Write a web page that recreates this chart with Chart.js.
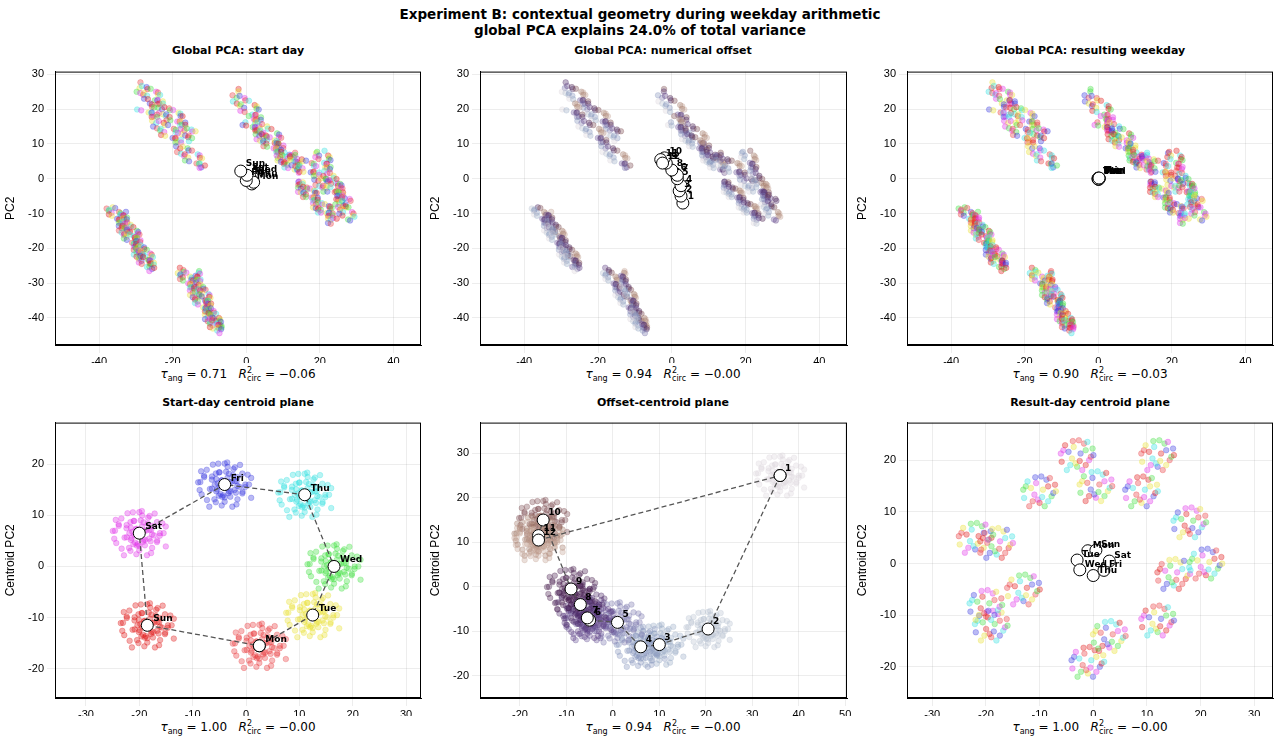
<!DOCTYPE html><html><head><meta charset="utf-8">
<script src="https://cdn.jsdelivr.net/npm/chart.js@4"></script>
<style>
body{margin:0;background:#fff;font-family:"DejaVu Sans",sans-serif;width:1280px;height:746px;position:relative;overflow:hidden}
.c{position:absolute}.t{position:absolute;font-weight:bold;font-size:11px;text-align:center;color:#000}
.m{position:absolute;font-size:12px;text-align:center;color:#000}
#main{position:absolute;left:0;width:1280px;top:6px;text-align:center;font-weight:bold;font-size:13.5px;line-height:16px}
</style></head><body>
<div id="main">Experiment B: contextual geometry during weekday arithmetic<br>global PCA explains 24.0% of total variance</div>
<script>
// ---- data ----
const DAYS=['Mon','Tue','Wed','Thu','Fri','Sat','Sun'];
const DAY_COLORS=['#e8383d','#e8e030','#40e040','#30e0e0','#3838e0','#e030e8','#e01818'];
const OFFSETS=['1','2','3','4','5','6','7','8','9','10','11','12'];
const OFF_COLORS=['#dcd6dc','#b9c4d2','#9aadc6','#8796bd','#7a77ae','#6d5a9a','#5e3f84','#4c2a66','#4a2050','#7a4a50','#a07868','#c2a294'];
const JIT=[[-0.8,0.3],[0.5,-0.6],[0.1,0.9],[-0.3,-0.2],[0.9,0.4],[-0.6,-0.9],[0.2,0.1],[0.7,-0.3],[-0.9,-0.4],[0.4,0.7],[-0.2,0.5],[0.0,-0.7],[0.6,0.8],[-0.5,0.2],[0.3,-0.9],[-0.7,0.6],[0.8,-0.1],[-0.1,-0.5],[0.5,0.3],[-0.4,-0.6],[0.95,0.0],[-0.95,0.1],[0.15,-0.35],[-0.25,0.85]];
// top-panel streaks [x0,y0,x1,y1,halfWidth]
const STREAKS=[[-29,27,-14,12,2.2],[-28,21,-12,3,2.2],[-3,25,12,5,2.4],[0,17,14,2,2],[12,7,28,-7,2.4],[20,8,28,-12,2],[14,-1,24,-12,2],[-37,-8,-27,-25,1.6],[-34,-10,-25,-26,1.6],[-18,-26,-8,-43,1.6],[-14,-27,-7,-44,1.4]];
const TOP_DAY_CENT=[[1.5,-1.5],[0.5,0],[1,0.5],[2,-1],[0,-0.5],[0.2,1],[-1.5,2.2]];
const TOP_OFF_CENT=[[3,-7],[2.5,-5],[2,-3.5],[2.5,-2],[1.5,0],[1,1.5],[1.5,1],[0,2.5],[-1.5,4.5],[-2,6],[-3,5.5],[-2.5,4.5]];
const TOP_RES_CENT=[[0,0.2],[0.2,0],[0.1,-0.2],[-0.1,0],[0.3,0.1],[0,-0.1],[0.2,0.2]];
const BL_CENT=[[2.5,-15.5],[12.5,-9.5],[16.5,0],[11,14],[-4,16],[-20,6.5],[-18.5,-11.5]];
const BM_CENT=[[36,25],[20.5,-9.5],[10,-13],[6,-13.5],[1,-8],[-5,-7.5],[-5.5,-7],[-7,-4],[-9,-0.5],[-15,15],[-16,11.5],[-16,10.5]];
const BM_SPREAD=[5,4.5,5,5,5,5,5,5,5,5,5,5];
const BR_CENT=[[-1,2.5],[-3,0.7],[-2.5,-1.2],[0,-2.3],[2,-1.3],[3,0.5],[0.5,2.6]];
const BR_CLUSTERS=[[-22,5],[-19,-12],[-18,4],[-10,14],[-3,21],[0.5,15],[9,14],[12,21],[18,8],[15,-2],[21,0],[12,-11],[3,-14],[-1,-19],[-13,-5],[-20,-8]];
// ---- build ----
function rgba(h,a){const n=parseInt(h.slice(1),16);return `rgba(${n>>16},${(n>>8)&255},${n&255},${a})`}
const topPts=[];
STREAKS.forEach((s,si)=>{const N=60;const dx=s[2]-s[0],dy=s[3]-s[1],L=Math.hypot(dx,dy);const nx=dy/L,ny=-dx/L;
 for(let i=0;i<N;i++){const j=JIT[(i*7+si*5)%24];const t=i/(N-1)+j[0]*0.02;const p=j[1];
  const x=s[0]+t*dx-p*s[4]*nx,y=s[1]+t*dy-p*s[4]*ny;
  const d=(i+si*3)%7;const o=Math.min(11,Math.floor((p+1)/2*12));
  topPts.push({x,y,d,o,r:(d+o+1)%7});}});
function cloud(c,sp){const out=[];JIT.forEach(j=>out.push({x:c[0]+j[0]*sp,y:c[1]+j[1]*sp}));JIT.forEach(j=>out.push({x:c[0]+j[1]*sp*0.55,y:c[1]-j[0]*sp*0.55}));JIT.forEach(j=>out.push({x:c[0]-j[1]*sp*1.15,y:c[1]+j[0]*sp*0.9}));return out}
const grid={color:'rgba(0,0,0,0.07)'};
const labelPlugin={id:'lbl',afterDatasetsDraw(ch){const ctx=ch.ctx;ch.data.datasets.forEach((ds,i)=>{if(!ds.txt)return;const m=ch.getDatasetMeta(i);ctx.save();ctx.font='bold 9px "DejaVu Sans"';ctx.fillStyle='#000';
 m.data.forEach((e,k)=>{ctx.fillText(ds.txt[k],e.x+ds.dx,e.y+ds.dy)});ctx.restore();});
 const a=ch.chartArea;ctx.save();ctx.strokeStyle='#000';ctx.lineWidth=1;ctx.strokeRect(a.left+0.5,a.top+0.5,a.right-a.left-1,a.bottom-a.top-1);ctx.restore();}};
function mk(id,left,top,w,h,xr,yr,xs,ys,ylab,datasets){
 const div=document.createElement('div');div.className='c';div.style.left=(left-52)+'px';div.style.top=top+'px';div.style.width=(w+59)+'px';div.style.height=(h+18)+'px';
 const cv=document.createElement('canvas');div.appendChild(cv);document.body.appendChild(div);
 const filt=st=>function(a){const t=[];for(let v=Math.ceil(a.min/st)*st;v<=a.max+1e-9;v+=st)t.push({value:v});a.ticks=t};
 new Chart(cv,{type:'scatter',data:{datasets},plugins:[labelPlugin],options:{animation:false,responsive:true,maintainAspectRatio:false,layout:{padding:{left:0,right:2,top:0,bottom:0}},
 plugins:{legend:{display:false},tooltip:{enabled:false}},
 scales:{x:{type:'linear',min:xr[0],max:xr[1],ticks:{color:'#000',font:{size:11},padding:2,autoSkip:false,maxRotation:0},afterBuildTicks:filt(xs),grid,border:{color:'#000'},afterFit(a){a.height=18}},
 y:{type:'linear',min:yr[0],max:yr[1],ticks:{color:'#000',font:{size:11},padding:3,autoSkip:false},afterBuildTicks:filt(ys),grid,border:{color:'#000'},title:{display:true,text:ylab,color:'#000',font:{size:12},padding:0},afterFit(a){a.width=52}}}}});
}
function ptsDS(pts,colors,key){return {data:pts.map(p=>({x:p.x,y:p.y})),pointRadius:2.8,pointBorderWidth:0.6,backgroundColor:pts.map(p=>rgba(colors[p[key]],0.35)),borderColor:pts.map(p=>rgba(colors[p[key]],0.45)),order:2}}
function centDS(c,txt,dx,dy,line){return {data:c.map(p=>({x:p[0],y:p[1]})),txt,dx,dy,pointRadius:6,pointBackgroundColor:'#fff',pointBorderColor:'#000',pointBorderWidth:1,showLine:!!line,borderColor:'#555',borderWidth:1.3,borderDash:[5,3],order:1}}
const TX=[-52,47.5],TY=[-47.8,30.8];
mk('a',55,62,366,283,TX,TY,20,10,'PC2',[centDS(TOP_DAY_CENT,DAYS,5,-5),ptsDS(topPts,DAY_COLORS,'d')]);
mk('b',480,62,367,283,TX,TY,20,10,'PC2',[centDS(TOP_OFF_CENT,OFFSETS,5,-4),ptsDS(topPts,OFF_COLORS,'o')]);
mk('c',907,62,366,283,TX,TY,20,10,'PC2',[centDS(TOP_RES_CENT,DAYS,5,-5),ptsDS(topPts,DAY_COLORS,'r')]);
const blPts=[];BL_CENT.forEach((c,i)=>cloud(c,4.8).forEach(p=>blPts.push({...p,d:i})));
const lc=BL_CENT.concat([BL_CENT[0]]);
mk('d',55,413,366,285,[-35.8,32.8],[-25.7,28.1],10,10,'Centroid PC2',[centDS(lc,DAYS.concat(['']),6,-4,true),ptsDS(blPts,DAY_COLORS,'d')]);
const bmPts=[];BM_CENT.forEach((c,i)=>cloud(c,BM_SPREAD[i]).forEach(p=>bmPts.push({...p,o:i})));
mk('e',480,413,367,285,[-28.6,50.4],[-25,36.9],10,10,'Centroid PC2',[centDS(BM_CENT.concat([BM_CENT[0]]),OFFSETS.concat(['']),5,-5,true),ptsDS(bmPts,OFF_COLORS,'o')]);
const brPts=[];BR_CLUSTERS.forEach((c,i)=>JIT.forEach((j,k)=>brPts.push({x:c[0]+j[0]*3.2,y:c[1]+j[1]*3.2,d:(i*3+k)%7})));
mk('f',907,413,366,285,[-34.7,33.5],[-26,27.3],10,10,'Centroid PC2',[centDS(BR_CENT,DAYS,5,-3),ptsDS(brPts,DAY_COLORS,'d')]);
// titles
const T=[['Global PCA: start day',238,44],['Global PCA: numerical offset',663,44],['Global PCA: resulting weekday',1090,44],['Start-day centroid plane',238,396],['Offset-centroid plane',663,396],['Result-day centroid plane',1090,396]];
T.forEach(t=>{const d=document.createElement('div');d.className='t';d.style.left=(t[1]-150)+'px';d.style.width='300px';d.style.top=t[2]+'px';d.textContent=t[0];document.body.appendChild(d)});
const M=[['0.71','−0.06',238,366],['0.94','−0.00',663,366],['0.90','−0.03',1090,366],['1.00','−0.00',238,719],['0.94','−0.00',663,719],['1.00','−0.00',1090,719]];
M.forEach(m=>{const d=document.createElement('div');d.className='m';d.style.left=(m[2]-150)+'px';d.style.width='300px';d.style.top=m[3]+'px';
 d.innerHTML=`<i>τ</i><sub style="font-size:8px">ang</sub> = ${m[0]}&nbsp;&nbsp;&nbsp;<i>R</i><sup style="font-size:8px">2</sup><sub style="font-size:8px;margin-left:-5px">circ</sub> = ${m[1]}`;document.body.appendChild(d)});
</script></body></html>
